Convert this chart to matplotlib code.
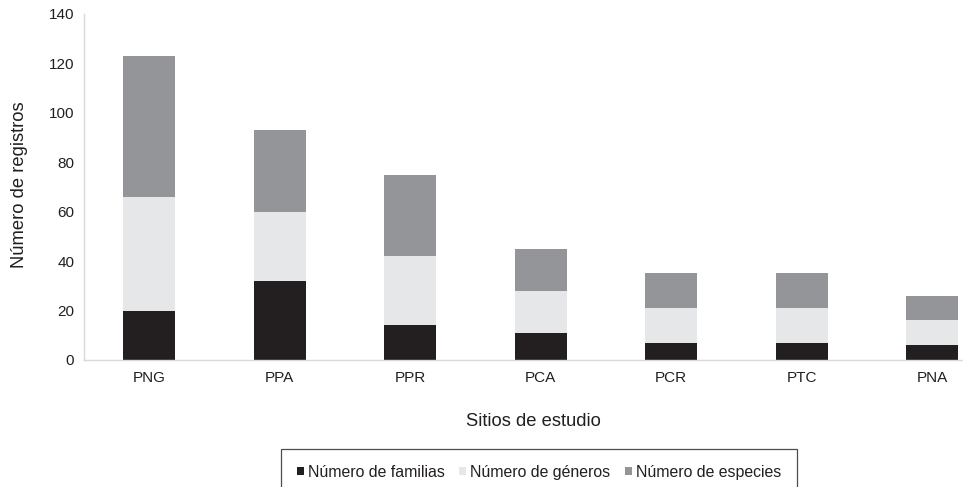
import numpy as np
import matplotlib.pyplot as plt

plt.rcParams["font.family"] = ["Liberation Sans", "DejaVu Sans"]

# Data
sitios = ["PNG", "PPA", "PPR", "PCA", "PCR", "PTC", "PNA"]
familias = [20, 32, 14, 11, 7, 7, 6]
generos = [46, 28, 28, 17, 14, 14, 10]
especies = [57, 33, 33, 17, 14, 14, 10]

labels = ["Número de familias", "Número de géneros", "Número de especies"]
colors = ["#231f20", "#e6e7e8", "#939598"]

fig = plt.figure(figsize=(9.63, 4.87), dpi=100)
ax = fig.add_axes([0.0872, 0.2608, 0.9486, 0.7105])

x = np.arange(len(sitios))
fam = np.array(familias)
gen = np.array(generos)
esp = np.array(especies)
w = 0.4
ax.bar(x, fam, w, color=colors[0], label=labels[0])
ax.bar(x, gen, w, bottom=fam, color=colors[1], label=labels[1])
ax.bar(x, esp, w, bottom=fam + gen, color=colors[2], label=labels[2])

ax.set_xlim(-0.5, len(sitios) - 0.5)
ax.set_ylim(0, 140)
ax.set_yticks(range(0, 141, 20))
ax.set_xticks(x)
ax.set_xticklabels(sitios)
ax.tick_params(length=0, labelsize=11, colors="#231f20")
ax.tick_params(axis="x", pad=8)
ax.tick_params(axis="y", pad=7)
for s in ["top", "right"]:
    ax.spines[s].set_visible(False)
for s in ["left", "bottom"]:
    ax.spines[s].set_color("#d9d9d9")
    ax.spines[s].set_linewidth(1.0)

fig.text(19 / 963, 1 - 185 / 487, "Número de registros", rotation=90, ha="center",
         va="center", fontsize=13.2, color="#231f20")
fig.text(533 / 963, 1 - 421 / 487, "Sitios de estudio", ha="center",
         va="center", fontsize=13.2, color="#231f20")

leg = fig.legend(loc="upper center", bbox_to_anchor=(539 / 963, 1 - 449 / 487),
                 ncol=3, frameon=True, fancybox=False, fontsize=11.4,
                 handlelength=0.45, handleheight=0.45, handletextpad=0.25,
                 columnspacing=0.9, borderpad=1.0, borderaxespad=0)
leg.get_frame().set_edgecolor("#231f20")
leg.get_frame().set_linewidth(0.9)
for t in leg.get_texts():
    t.set_color("#231f20")

fig.savefig("out.png", dpi=100)
